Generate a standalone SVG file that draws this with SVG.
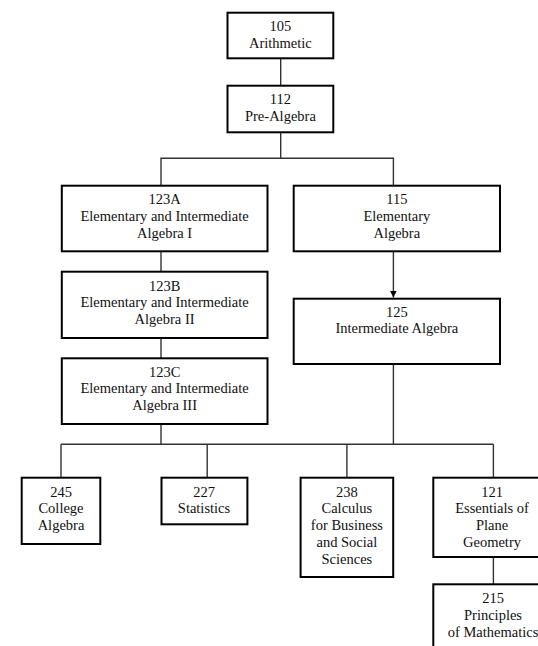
<svg xmlns="http://www.w3.org/2000/svg" width="538" height="646" viewBox="0 0 538 646">
<style>
.box{fill:#fff;stroke:#000;stroke-width:2}
.t{font-family:"Liberation Serif","Times New Roman",serif;font-size:14.5px;fill:#111;text-anchor:middle}
.c{fill:none;stroke:#333;stroke-width:1.4}
</style>
<defs>
<marker id="ah" markerWidth="8" markerHeight="8" refX="7" refY="4" orient="auto" markerUnits="userSpaceOnUse">
<path d="M0,0.5 L7,4 L0,7.5 Z" fill="#000"/>
</marker>
</defs>
<rect width="538" height="646" fill="#fff"/>
<g id="connectors">
<line class="c" x1="280.7" y1="58.3" x2="280.7" y2="85.7"/>
<polyline class="c" points="280.7,132.3 280.7,158.3"/>
<polyline class="c" points="161,185.7 161,158.3 393.4,158.3 393.4,185.7"/>
<line class="c" x1="161" y1="251.3" x2="161" y2="271.7"/>
<line class="c" x1="161" y1="338" x2="161" y2="358.3"/>
<line class="c" x1="393.4" y1="251.3" x2="393.4" y2="297.5" stroke="#000" marker-end="url(#ah)"/>
<line class="c" x1="161" y1="424" x2="161" y2="444.3"/>
<line class="c" x1="393.4" y1="364" x2="393.4" y2="444.3"/>
<line class="c" x1="61" y1="444.3" x2="493.4" y2="444.3"/>
<line class="c" x1="61" y1="444.3" x2="61" y2="477.7"/>
<line class="c" x1="207.2" y1="444.3" x2="207.2" y2="477.7"/>
<line class="c" x1="346.9" y1="444.3" x2="346.9" y2="477.7"/>
<line class="c" x1="493.4" y1="444.3" x2="493.4" y2="477.7"/>
<line class="c" x1="493.4" y1="557" x2="493.4" y2="584.3"/>
</g>
<g id="n105"><rect class="box" x="227.5" y="12.7" width="105.8" height="45.6"/>
<text class="t" x="280.4" y="30.7">105</text><text class="t" x="280.4" y="47.7">Arithmetic</text></g>
<g id="n112"><rect class="box" x="227.5" y="85.7" width="105.8" height="46.6"/>
<text class="t" x="280.4" y="104">112</text><text class="t" x="280.4" y="120.7">Pre-Algebra</text></g>
<g id="n123A"><rect class="box" x="61.8" y="185.7" width="205.7" height="65.6"/>
<text class="t" x="164.6" y="204">123A</text><text class="t" x="164.6" y="220.7">Elementary and Intermediate</text><text class="t" x="164.6" y="237.5">Algebra I</text></g>
<g id="n115"><rect class="box" x="293.7" y="185.7" width="206.3" height="65.6"/>
<text class="t" x="396.8" y="204">115</text><text class="t" x="396.8" y="220.7">Elementary</text><text class="t" x="396.8" y="237.5">Algebra</text></g>
<g id="n123B"><rect class="box" x="61.8" y="271.7" width="205.7" height="66.3"/>
<text class="t" x="164.6" y="290.7">123B</text><text class="t" x="164.6" y="307.3">Elementary and Intermediate</text><text class="t" x="164.6" y="324">Algebra II</text></g>
<g id="n123C"><rect class="box" x="61.8" y="358.3" width="205.7" height="65.7"/>
<text class="t" x="164.6" y="376.7">123C</text><text class="t" x="164.6" y="393.3">Elementary and Intermediate</text><text class="t" x="164.6" y="410">Algebra III</text></g>
<g id="n125"><rect class="box" x="293.7" y="298.7" width="206.3" height="65.3"/>
<text class="t" x="396.8" y="316.7">125</text><text class="t" x="396.8" y="333.3">Intermediate Algebra</text></g>
<g id="n245"><rect class="box" x="21.7" y="477.7" width="78.6" height="66.3"/>
<text class="t" x="61" y="496.5">245</text><text class="t" x="61" y="513.3">College</text><text class="t" x="61" y="530.2">Algebra</text></g>
<g id="n227"><rect class="box" x="161.5" y="477.7" width="85.9" height="46.6"/>
<text class="t" x="204" y="496.5">227</text><text class="t" x="204" y="513.3">Statistics</text></g>
<g id="n238"><rect class="box" x="300.6" y="477.7" width="92.6" height="99.3"/>
<text class="t" x="346.9" y="496.5">238</text><text class="t" x="346.9" y="513.3">Calculus</text><text class="t" x="346.9" y="530.2">for Business</text><text class="t" x="346.9" y="547">and Social</text><text class="t" x="346.9" y="563.8">Sciences</text></g>
<g id="n121"><rect class="box" x="433.3" y="477.7" width="120" height="79.3"/>
<text class="t" x="492" y="496.5">121</text><text class="t" x="492" y="513.3">Essentials of</text><text class="t" x="492" y="530.2">Plane</text><text class="t" x="492" y="547">Geometry</text></g>
<g id="n215"><rect class="box" x="433.3" y="584.3" width="120" height="80"/>
<text class="t" x="493" y="603">215</text><text class="t" x="493" y="619.8">Principles</text><text class="t" x="493" y="636.6">of Mathematics</text></g>
</svg>
